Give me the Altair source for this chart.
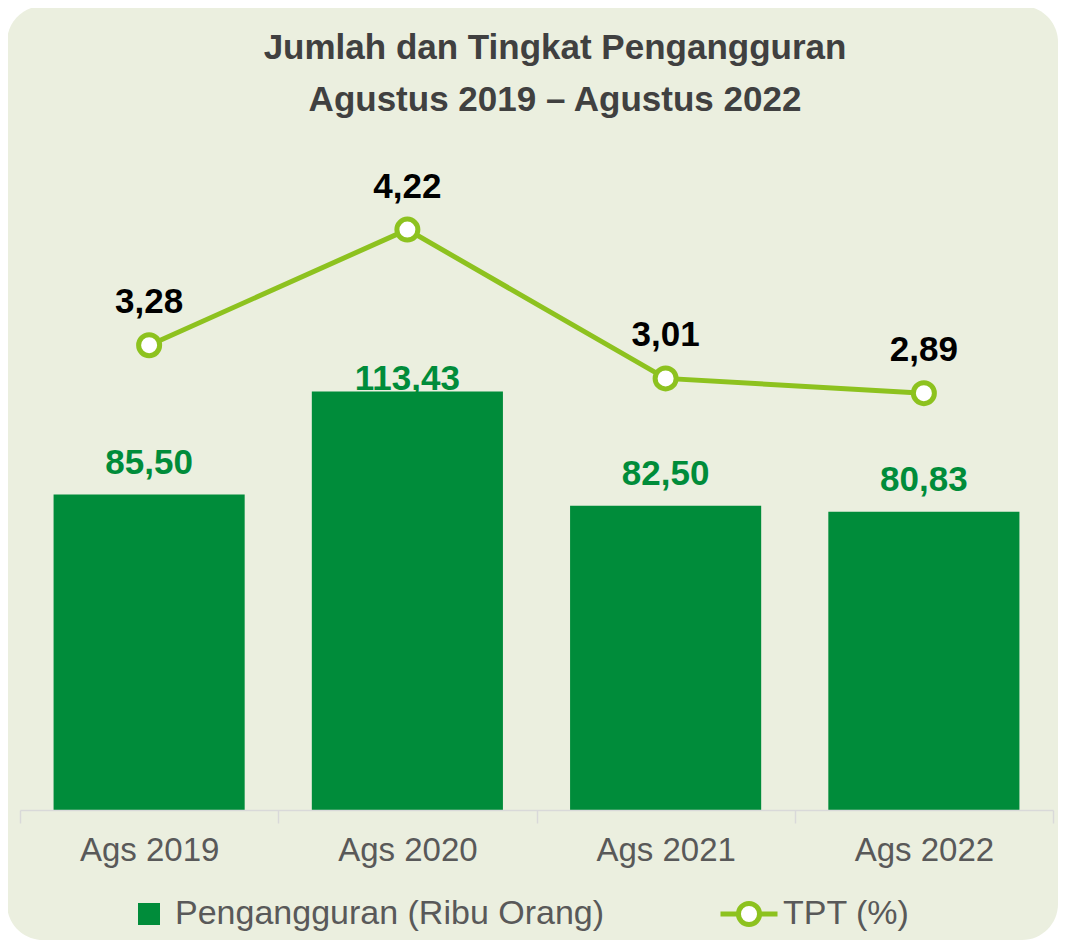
import altair as alt
import pandas as pd

categories = ["Ags 2019", "Ags 2020", "Ags 2021", "Ags 2022"]
pengangguran = [85.50, 113.43, 82.50, 80.83]
tpt = [3.28, 4.22, 3.01, 2.89]

title_lines = ["Jumlah dan Tingkat Pengangguran", "Agustus 2019 \u2013 Agustus 2022"]
bar_series = "Pengangguran (Ribu Orang)"
line_series = "TPT (%)"

BAR_COLOR = "#008C3A"
LINE_COLOR = "#8DC21F"
BG_COLOR = "#EBEFDF"
FONT = "Liberation Sans"

df = pd.DataFrame({
    "cat": categories,
    "pengangguran": pengangguran,
    "tpt": tpt,
})
df["pengangguran_label"] = [f"{v:.2f}".replace(".", ",") for v in pengangguran]
df["tpt_label"] = [f"{v:.2f}".replace(".", ",") for v in tpt]
df["s_bar"] = bar_series
df["s_line"] = line_series

xaxis = alt.Axis(
    title=None, labelFont=FONT, labelFontSize=33, labelColor="#595959",
    domainColor="#D9D9D9", domainWidth=1.5, tickColor="#D9D9D9", tickWidth=1.5,
    tickSize=13, tickBand="extent", labelPadding=11, grid=False, labelAngle=0,
    zindex=1,
)
x_enc = alt.X("cat:N", sort=categories,
              scale=alt.Scale(paddingInner=0, paddingOuter=0), axis=xaxis)

y_bar = alt.Y("pengangguran:Q", scale=alt.Scale(domain=[0, 180]), axis=None)
y_line = alt.Y("tpt:Q", scale=alt.Scale(domain=[-0.5, 4.9]), axis=None)

base = alt.Chart(df)

bg = alt.Chart(alt.Data(values=[{}])).mark_rect(
    fill=BG_COLOR, cornerRadius=36
).encode(
    x=alt.value(-13), x2=alt.value(1038), y=alt.value(-140), y2=alt.value(794)
)

title_text = alt.Chart(alt.Data(values=[{}])).mark_text(
    text=title_lines, font=FONT, fontSize=35, fontWeight="bold",
    color="#404040", lineHeight=52, align="center", baseline="alphabetic",
).encode(x=alt.value(535), y=alt.value(-87))

bars = base.mark_bar(width={"band": 0.74}).encode(
    x=x_enc,
    y=y_bar,
    fill=alt.Fill(
        "s_bar:N",
        scale=alt.Scale(domain=[bar_series], range=[BAR_COLOR]),
        legend=alt.Legend(
            title=None, orient="none", legendX=112, legendY=751,
            symbolType="square", symbolSize=484, symbolStrokeWidth=0,
            labelFont=FONT, labelFontSize=34, labelColor="#595959",
            labelOffset=9, padding=0, labelLimit=600,
        ),
    ),
)

bar_labels_low = base.transform_filter("datum.pengangguran < 100").mark_text(
    font=FONT, fontSize=35, fontWeight="bold", color=BAR_COLOR,
    baseline="alphabetic", dy=-21,
).encode(x=x_enc, y=y_bar, text="pengangguran_label:N")

bar_labels_high = base.transform_filter("datum.pengangguran >= 100").mark_text(
    font=FONT, fontSize=35, fontWeight="bold", color=BAR_COLOR,
    baseline="alphabetic", dy=-2,
).encode(x=x_enc, y=y_bar, text="pengangguran_label:N")

legend_path = ("M-1,0L-0.37,0M0.37,0L1,0M0.37,0A0.37,0.37,0,1,1,-0.37,0"
               "A0.37,0.37,0,1,1,0.37,0Z")

line = base.mark_line(strokeWidth=5).encode(
    x=x_enc,
    y=y_line,
    stroke=alt.Stroke(
        "s_line:N",
        scale=alt.Scale(domain=[line_series], range=[LINE_COLOR]),
        legend=alt.Legend(
            title=None, orient="none", legendX=698, legendY=737,
            symbolType=legend_path, symbolSize=3249, symbolStrokeWidth=5,
            symbolFillColor="white",
            labelFont=FONT, labelFontSize=34, labelColor="#595959",
            labelOffset=3, padding=0,
        ),
    ),
)

points = base.mark_point(
    shape="circle", filled=True, fill="white", stroke=LINE_COLOR,
    strokeWidth=5, size=441, opacity=1,
).encode(x=x_enc, y=y_line)

tpt_labels = base.mark_text(
    font=FONT, fontSize=35, fontWeight="bold", color="#000000",
    baseline="alphabetic", dy=-32,
).encode(x=x_enc, y=y_line, text="tpt_label:N")

bar_layer = alt.layer(bars, bar_labels_low, bar_labels_high)
line_layer = alt.layer(line, points, tpt_labels)

chart = alt.layer(bg, title_text, bar_layer, line_layer).resolve_scale(
    y="independent"
).properties(
    width=1033,
    height=664,
    padding={"left": 12, "top": 138, "right": 5, "bottom": 130},
    autosize=alt.AutoSizeParams(type="none"),
    background="white",
).configure_view(stroke=None)

chart.save("out.html", embed_options={"renderer": "svg", "actions": False})
